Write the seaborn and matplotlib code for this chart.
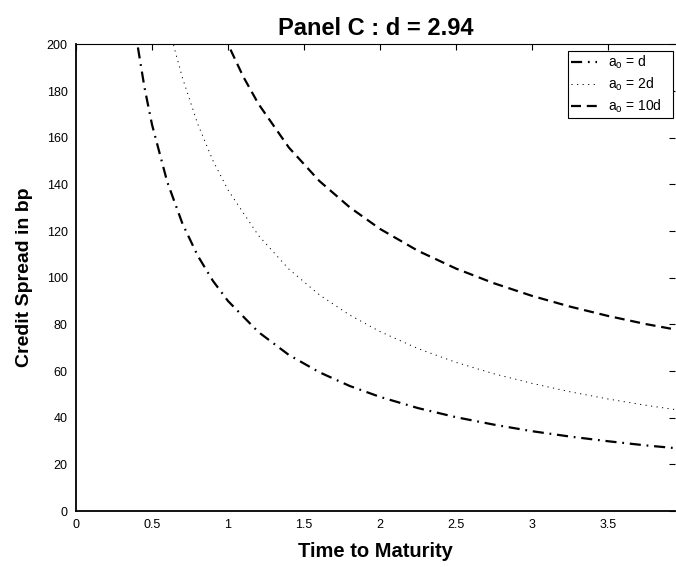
import matplotlib
matplotlib.use("Agg")
import matplotlib.pyplot as plt
import seaborn as sns
import pandas as pd

# Data (time to maturity in years, spread in bp)
t_d = [0.35, 0.40, 0.45, 0.50, 0.60, 0.70, 0.80, 0.90, 1.00, 1.20, 1.40, 1.60,
       1.80, 2.00, 2.25, 2.50, 2.75, 3.00, 3.25, 3.50, 3.75, 3.95]
s_d = [226.7, 201.6, 181.7, 165.6, 141.1, 123.2, 109.5, 98.7, 90.0, 76.7, 66.9, 59.5,
       53.6, 48.9, 44.1, 40.2, 37.0, 34.2, 31.9, 29.9, 28.1, 26.9]

t_2d = [0.60, 0.65, 0.70, 0.80, 0.90, 1.00, 1.20, 1.40, 1.60, 1.80, 2.00, 2.25,
        2.50, 2.75, 3.00, 3.25, 3.50, 3.75, 3.95]
s_2d = [211.3, 197.6, 185.7, 166.0, 150.3, 137.6, 118.1, 103.7, 92.7, 84.0, 76.9, 69.6,
        63.7, 58.8, 54.7, 51.1, 48.0, 45.3, 43.4]

t_10d = [0.90, 0.95, 1.00, 1.10, 1.20, 1.40, 1.60, 1.80, 2.00, 2.25, 2.50, 2.75,
         3.00, 3.25, 3.50, 3.75, 3.95]
s_10d = [216.6, 207.9, 200.0, 186.2, 174.5, 155.8, 141.5, 130.2, 120.9, 111.5, 103.9, 97.6,
         92.2, 87.6, 83.6, 80.1, 77.7]

labels = ["a$_\\mathrm{o}$ = d", "a$_\\mathrm{o}$ = 2d", "a$_\\mathrm{o}$ = 10d"]
x_ticks = [0, 0.5, 1, 1.5, 2, 2.5, 3, 3.5]
x_ticklabels = ["0", "0.5", "1", "1.5", "2", "2.5", "3", "3.5"]
y_ticks = [0, 20, 40, 60, 80, 100, 120, 140, 160, 180, 200]

sns.set_style("white")
plt.rcParams["font.family"] = ["Liberation Sans", "DejaVu Sans"]
plt.rcParams["mathtext.fontset"] = "custom"
plt.rcParams["mathtext.rm"] = "Liberation Sans"
plt.rcParams["mathtext.it"] = "Liberation Sans:italic"
plt.rcParams["text.color"] = "black"
plt.rcParams["axes.labelcolor"] = "black"
plt.rcParams["xtick.color"] = "black"
plt.rcParams["ytick.color"] = "black"

fig = plt.figure(figsize=(6.76, 5.67), dpi=100)
ax = fig.add_axes([76 / 676, 56 / 567, (675 - 76) / 676, (511.3 - 44.7) / 567])

df1 = pd.DataFrame({"t": t_d, "s": s_d})
df2 = pd.DataFrame({"t": t_2d, "s": s_2d})
df3 = pd.DataFrame({"t": t_10d, "s": s_10d})

sns.lineplot(data=df1, x="t", y="s", ax=ax, color="black", linewidth=1.6,
             linestyle=(0, (5, 2.6, 0.8, 2.6)), label=labels[0])
sns.lineplot(data=df2, x="t", y="s", ax=ax, color="black", linewidth=0.7,
             linestyle=(0, (1.2, 4.5)), label=labels[1])
sns.lineplot(data=df3, x="t", y="s", ax=ax, color="black", linewidth=1.6,
             linestyle=(0, (4.5, 2.6)), label=labels[2])

ax.set_xlim(0, 3.94)
ax.set_ylim(0, 200)
ax.set_xticks(x_ticks)
ax.set_xticklabels(x_ticklabels)
ax.set_yticks(y_ticks)
ax.tick_params(direction="in", top=True, right=True, length=4, width=0.8,
               labelsize=9, color="black", labelcolor="black", pad=6)
for side in ["left", "bottom", "top"]:
    ax.spines[side].set_visible(True)
    ax.spines[side].set_color("black")
ax.spines["left"].set_linewidth(1.3)
ax.spines["bottom"].set_linewidth(1.3)
ax.spines["top"].set_linewidth(0.8)
ax.spines["right"].set_visible(False)

ax.set_xlabel("Time to Maturity", fontsize=14.5, fontweight="bold", labelpad=8)
ax.set_ylabel("Credit Spread in bp", fontsize=14, fontweight="bold", labelpad=10)
ax.set_title("Panel C : d = 2.94", fontsize=17, fontweight="bold", pad=7)

leg = ax.legend(loc="upper right", bbox_to_anchor=(0.997, 0.986), fontsize=10,
                frameon=True, fancybox=False, edgecolor="black", framealpha=1,
                handlelength=1.9, handletextpad=0.8, borderpad=0.2,
                labelspacing=0.32, borderaxespad=0)
leg.get_frame().set_linewidth(0.8)
for txt in leg.get_texts():
    txt.set_text(txt.get_text() + "   ")

fig.savefig("out.png", dpi=100)
